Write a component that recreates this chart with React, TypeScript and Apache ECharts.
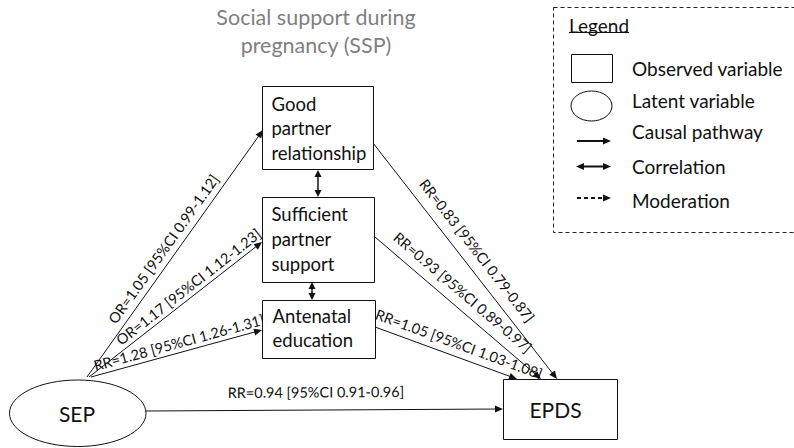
import React, { useEffect, useRef } from "react";
import * as echarts from "echarts";

// ---------------- data ----------------
const TITLE_LINES = ["Social support during", "pregnancy (SSP)"];
const NODE_NAMES = ["SEP", "Good partner relationship", "Sufficient partner support", "Antenatal education", "EPDS"];
const NODE_KINDS = ["latent", "observed", "observed", "observed", "observed"];
const PATH_FROM = ["SEP", "SEP", "SEP", "SEP", "Good partner relationship", "Sufficient partner support", "Antenatal education"];
const PATH_TO = ["Good partner relationship", "Sufficient partner support", "Antenatal education", "EPDS", "EPDS", "EPDS", "EPDS"];
const PATH_MEASURE = ["OR", "OR", "RR", "RR", "RR", "RR", "RR"];
const PATH_ESTIMATE = [1.05, 1.17, 1.28, 0.94, 0.83, 0.93, 1.05];
const PATH_CI_LOW = [0.99, 1.12, 1.26, 0.91, 0.79, 0.89, 1.03];
const PATH_CI_HIGH = [1.12, 1.23, 1.31, 0.96, 0.87, 0.97, 1.08];
const CORR_A = ["Good partner relationship", "Sufficient partner support"];
const CORR_B = ["Sufficient partner support", "Antenatal education"];
const LEGEND_TITLE = "Legend";
const LEGEND_LABELS = ["Observed variable", "Latent variable", "Causal pathway", "Correlation", "Moderation"];

// ---------------- layout (diagram units = pixels) ----------------
const W = 794;
const H = 448;
const FONT = "Lato, 'Open Sans', sans-serif";
const INK = "#111";

type Box = { x: number; y: number; w: number; h: number; tx: number; ty: number; lh: number; center: boolean; fs: number };
const NODE_BOX: Record<string, Box> = {
  "SEP": { x: 9.5, y: 380, w: 136.5, h: 66.5, tx: 67.5, ty: 33, lh: 0, center: true, fs: 21 },
  "Good partner relationship": { x: 262.5, y: 86.5, w: 111, h: 83, tx: 9, ty: 17, lh: 24.5, center: false, fs: 18.5 },
  "Sufficient partner support": { x: 262.5, y: 197.5, w: 112, h: 85, tx: 9, ty: 16, lh: 25, center: false, fs: 18.5 },
  "Antenatal education": { x: 262.5, y: 300.5, w: 113, h: 58, tx: 10, ty: 15, lh: 24, center: false, fs: 18.5 },
  "EPDS": { x: 503.5, y: 379.5, w: 114, h: 60, tx: 52, ty: 30, lh: 0, center: true, fs: 21 },
};

// endpoints of each causal path, label position along it (t) and offset from it (off)
const PATH_GEOM = [
  { a: [87, 377], b: [263, 130], t: 0.49, off: 12 },
  { a: [89, 377], b: [262, 242], t: 0.61, off: 10 },
  { a: [91, 377], b: [262, 330], t: 0.53, off: 10 },
  { a: [146, 411], b: [503, 409], t: 0.476, off: 18 },
  { a: [373, 143], b: [557, 379], t: 0.497, off: 16 },
  { a: [375, 237], b: [541, 379], t: 0.47, off: 15 },
  { a: [375, 327], b: [517, 379], t: 0.56, off: 13 },
];
const CORR_GEOM = [
  { a: [318, 170], b: [318, 197] },
  { a: [312, 282], b: [312, 300] },
];

const fmt = (v: number) => v.toFixed(2);
const pathLabel = (i: number) =>
  `${PATH_MEASURE[i]}=${fmt(PATH_ESTIMATE[i])} [95%CI ${fmt(PATH_CI_LOW[i])}-${fmt(PATH_CI_HIGH[i])}]`;

function head(tip: number[], ux: number, uy: number, len: number, hw: number) {
  const bx = tip[0] - ux * len;
  const by = tip[1] - uy * len;
  return [
    [tip[0], tip[1]],
    [bx - uy * hw, by + ux * hw],
    [bx + uy * hw, by - ux * hw],
  ];
}

function measure(text: string, font: string) {
  const c = document.createElement("canvas").getContext("2d");
  if (!c) return text.length * 9;
  c.font = font;
  return c.measureText(text).width;
}

function buildOption() {
  const nodeData = NODE_NAMES.map((n) => {
    const b = NODE_BOX[n];
    return [b.x, b.y, b.x + b.w, b.y + b.h];
  });
  const pathData = PATH_FROM.map((f, i) => {
    const g = PATH_GEOM[i];
    return { name: `${f} → ${PATH_TO[i]}`, value: [g.a[0], g.a[1], g.b[0], g.b[1]] };
  });
  const corrData = CORR_A.map((a, i) => {
    const g = CORR_GEOM[i];
    return { name: `${a} ↔ ${CORR_B[i]}`, value: [g.a[0], g.a[1], g.b[0], g.b[1]] };
  });

  const legendFs = 19;
  const legendUnderline = measure(LEGEND_TITLE, `${legendFs}px Lato`);
  const legendRows = [68, 100, 131, 166, 200];

  return {
    animation: false,
    backgroundColor: "#fff",
    grid: { left: 0, right: 0, top: 0, bottom: 0, containLabel: false },
    xAxis: { type: "value", min: 0, max: W, show: false },
    yAxis: { type: "value", min: 0, max: H, inverse: true, show: false },
    graphic: [
      ...TITLE_LINES.map((t, k) => ({
        type: "text",
        x: 316,
        y: 17 + k * 27.5,
        style: { text: t, fill: "#7f7f7f", font: `21.5px ${FONT}`, align: "center", verticalAlign: "middle" },
      })),
      {
        type: "rect",
        shape: { x: 553.5, y: 7.5, width: 270, height: 225 },
        style: { fill: "none", stroke: "#222", lineWidth: 1, lineDash: [4, 3] },
      },
      {
        type: "text",
        x: 569,
        y: 25,
        style: { text: LEGEND_TITLE, fill: INK, font: `${legendFs}px ${FONT}`, verticalAlign: "middle" },
      },
      {
        type: "line",
        shape: { x1: 569, y1: 32.5, x2: 569 + legendUnderline, y2: 32.5 },
        style: { stroke: INK, lineWidth: 1 },
      },
      { type: "rect", shape: { x: 571.5, y: 54.5, width: 41, height: 28 }, style: { fill: "#fff", stroke: INK, lineWidth: 1 } },
      { type: "ellipse", shape: { cx: 591.5, cy: 106, rx: 20.5, ry: 15 }, style: { fill: "#fff", stroke: INK, lineWidth: 1 } },
      { type: "line", shape: { x1: 577, y1: 141, x2: 604, y2: 141 }, style: { stroke: INK, lineWidth: 2 } },
      { type: "polygon", shape: { points: head([611, 141], 1, 0, 8, 3.5) }, style: { fill: INK } },
      { type: "line", shape: { x1: 582, y1: 166.5, x2: 605, y2: 166.5 }, style: { stroke: INK, lineWidth: 2 } },
      { type: "polygon", shape: { points: head([611, 166.5], 1, 0, 8, 3.5) }, style: { fill: INK } },
      { type: "polygon", shape: { points: head([576, 166.5], -1, 0, 8, 3.5) }, style: { fill: INK } },
      { type: "line", shape: { x1: 577, y1: 198, x2: 604, y2: 198 }, style: { stroke: INK, lineWidth: 2, lineDash: [4, 3] } },
      { type: "polygon", shape: { points: head([611, 198], 1, 0, 8, 3.5) }, style: { fill: INK } },
      ...LEGEND_LABELS.map((t, k) => ({
        type: "text",
        x: 632,
        y: legendRows[k],
        style: { text: t, fill: INK, font: `${legendFs}px ${FONT}`, verticalAlign: "middle" },
      })),
    ],
    series: [
      {
        type: "custom",
        name: "paths",
        coordinateSystem: "cartesian2d",
        silent: true,
        clip: false,
        data: pathData,
        renderItem: (params: any, api: any) => {
          const i = params.dataIndex;
          const g = PATH_GEOM[i];
          const a = api.coord([api.value(0), api.value(1)]);
          const b = api.coord([api.value(2), api.value(3)]);
          const dx = b[0] - a[0];
          const dy = b[1] - a[1];
          const len = Math.hypot(dx, dy);
          const ux = dx / len;
          const uy = dy / len;
          let lx = uy;
          let ly = -ux;
          if (ly > 0) {
            lx = -lx;
            ly = -ly;
          }
          const hl = 8;
          const cx = a[0] + ux * len * g.t + lx * g.off;
          const cy = a[1] + uy * len * g.t + ly * g.off;
          return {
            type: "group",
            children: [
              {
                type: "line",
                shape: { x1: a[0], y1: a[1], x2: b[0] - ux * (hl - 1), y2: b[1] - uy * (hl - 1) },
                style: { stroke: INK, lineWidth: 1 },
              },
              { type: "polygon", shape: { points: head(b, ux, uy, hl, 3.5) }, style: { fill: INK } },
              {
                type: "text",
                x: cx,
                y: cy,
                rotation: -Math.atan2(dy, dx),
                style: { text: pathLabel(i), fill: INK, font: `14.5px ${FONT}`, align: "center", verticalAlign: "middle" },
              },
            ],
          };
        },
      },
      {
        type: "custom",
        name: "correlations",
        coordinateSystem: "cartesian2d",
        silent: true,
        clip: false,
        data: corrData,
        renderItem: (params: any, api: any) => {
          const a = api.coord([api.value(0), api.value(1)]);
          const b = api.coord([api.value(2), api.value(3)]);
          const dx = b[0] - a[0];
          const dy = b[1] - a[1];
          const len = Math.hypot(dx, dy);
          const ux = dx / len;
          const uy = dy / len;
          const hl = 7;
          return {
            type: "group",
            children: [
              {
                type: "line",
                shape: { x1: a[0] + ux * hl, y1: a[1] + uy * hl, x2: b[0] - ux * hl, y2: b[1] - uy * hl },
                style: { stroke: INK, lineWidth: 1.5 },
              },
              { type: "polygon", shape: { points: head(b, ux, uy, hl, 3.5) }, style: { fill: INK } },
              { type: "polygon", shape: { points: head(a, -ux, -uy, hl, 3.5) }, style: { fill: INK } },
            ],
          };
        },
      },
      {
        type: "custom",
        name: "variables",
        coordinateSystem: "cartesian2d",
        silent: true,
        clip: false,
        data: nodeData,
        renderItem: (params: any, api: any) => {
          const i = params.dataIndex;
          const name = NODE_NAMES[i];
          const box = NODE_BOX[name];
          const p0 = api.coord([api.value(0), api.value(1)]);
          const p1 = api.coord([api.value(2), api.value(3)]);
          const x = p0[0];
          const y = p0[1];
          const w = p1[0] - p0[0];
          const h = p1[1] - p0[1];
          const children: any[] = [];
          if (NODE_KINDS[i] === "latent") {
            children.push({
              type: "ellipse",
              shape: { cx: x + w / 2, cy: y + h / 2, rx: w / 2, ry: h / 2 },
              style: { fill: "#fff", stroke: INK, lineWidth: 1 },
            });
          } else {
            children.push({
              type: "rect",
              shape: { x, y, width: w, height: h },
              style: { fill: "#fff", stroke: INK, lineWidth: 1 },
            });
          }
          const lines = box.center ? [name] : name.split(" ");
          lines.forEach((t, k) => {
            children.push({
              type: "text",
              x: x + box.tx,
              y: y + box.ty + k * box.lh,
              style: {
                text: t,
                fill: INK,
                font: `${box.fs}px ${FONT}`,
                align: box.center ? "center" : "left",
                verticalAlign: "middle",
              },
            });
          });
          return { type: "group", children };
        },
      },
    ],
  };
}

export default function App() {
  const ref = useRef<HTMLDivElement>(null);
  useEffect(() => {
    document.body.style.margin = "0";
    if (!ref.current) return;
    const chart = echarts.init(ref.current, null, { renderer: "svg" });
    chart.setOption(buildOption() as any);
    return () => chart.dispose();
  }, []);
  return <div ref={ref} style={{ width: W, height: H, background: "#fff" }} />;
}
